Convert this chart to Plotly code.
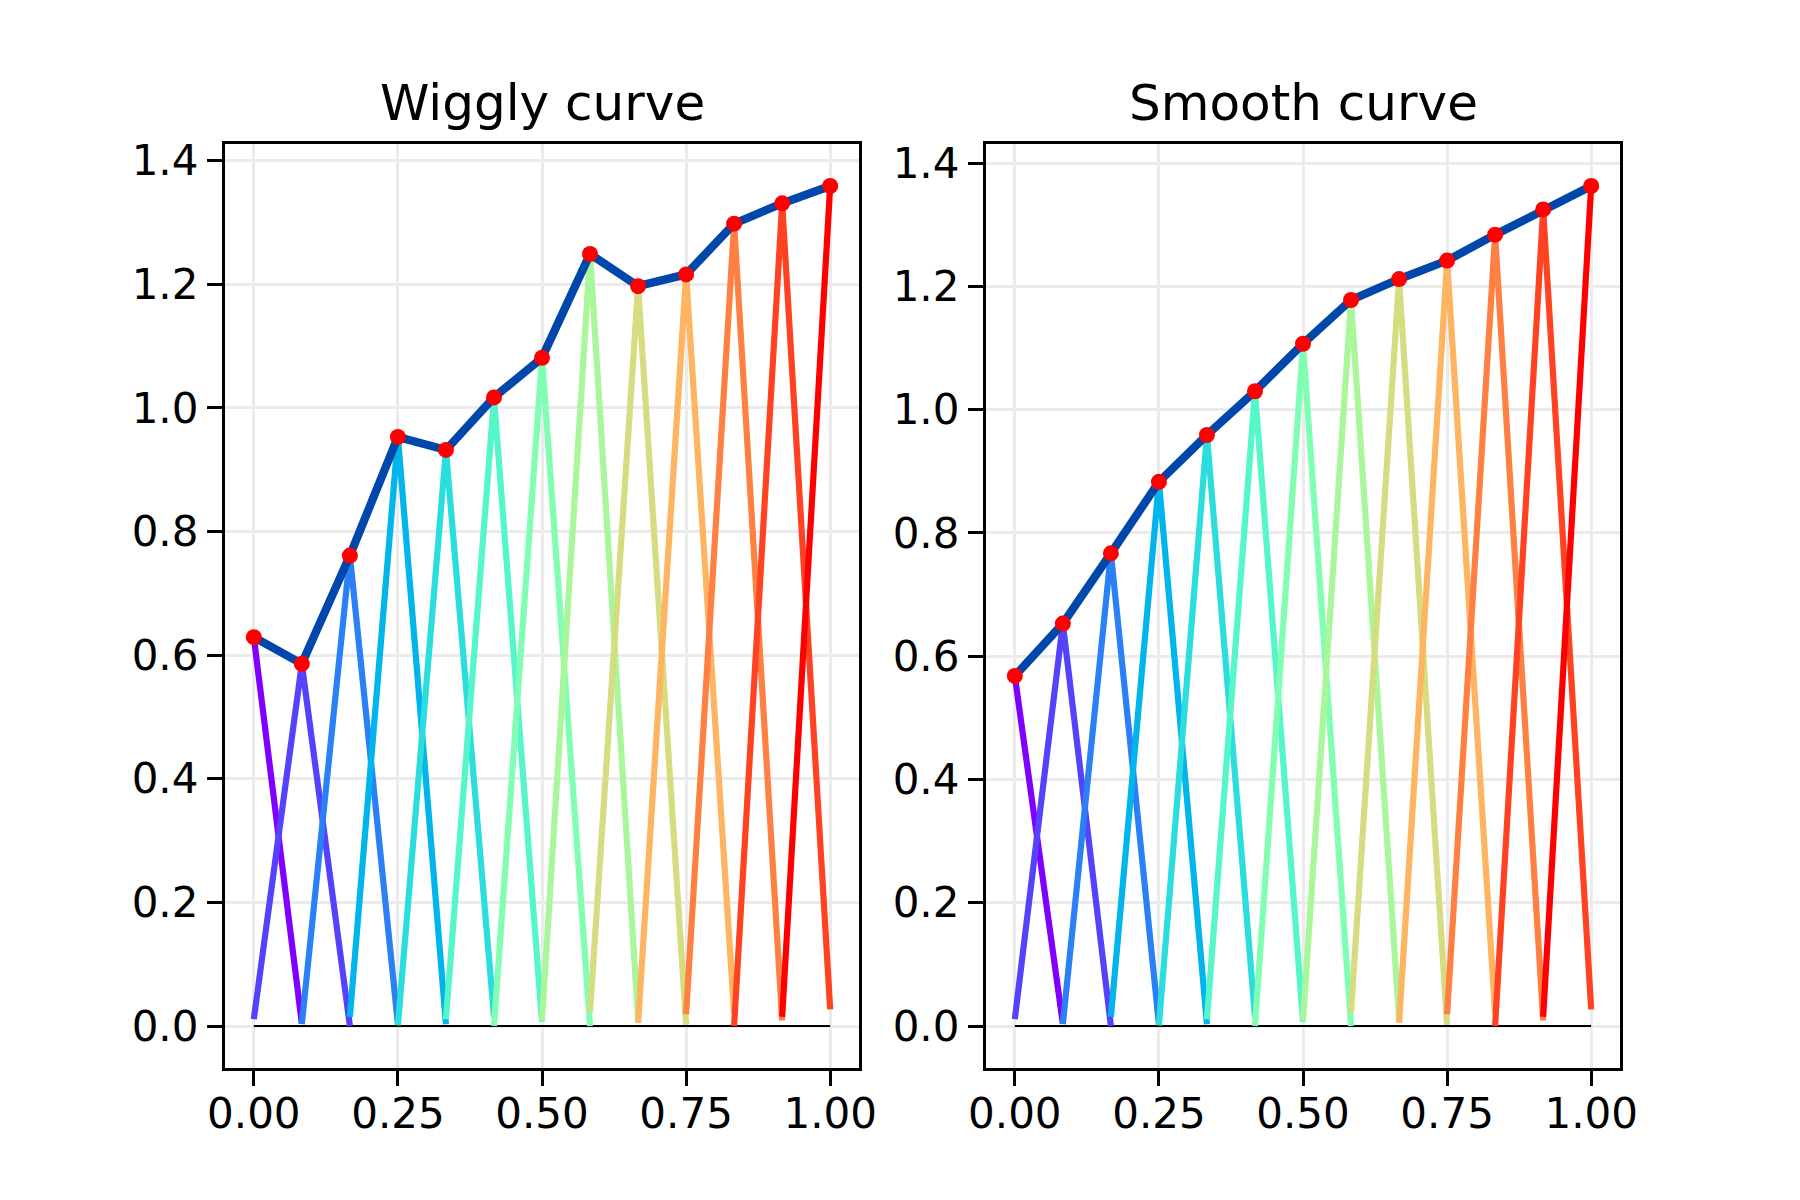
import plotly.graph_objects as go

# ---- data ----
x_vals = [0.0, 0.0833, 0.1667, 0.25, 0.3333, 0.4167, 0.5, 0.5833, 0.6667, 0.75, 0.8333, 0.9167, 1.0]
wiggly_y = [0.629, 0.586, 0.761, 0.953, 0.932, 1.017, 1.081, 1.249, 1.197, 1.216, 1.298, 1.331, 1.359]
smooth_y = [0.568, 0.653, 0.767, 0.883, 0.959, 1.030, 1.107, 1.178, 1.212, 1.242, 1.284, 1.325, 1.363]
# low ends of the coloured zig-zag segments (start at previous x, end at next x)
start_low = [None, 0.011, 0.003, 0.015, 0.001, 0.011, 0.0, 0.009, 0.022, 0.005, 0.019, 0.0, 0.015]
end_low = [0.004, 0.0, 0.003, 0.003, 0.015, 0.007, 0.0, 0.011, 0.002, 0.020, 0.009, 0.027, None]
titles = ["Wiggly curve", "Smooth curve"]
x_ticks = [0.0, 0.25, 0.5, 0.75, 1.0]
y_ticks = [0.0, 0.2, 0.4, 0.6, 0.8, 1.0, 1.2, 1.4]

# ---- styles ----
seg_colors = ["#8000ff", "#5542fd", "#2b80f6", "#00b4ec", "#2bdddd", "#55f6ca", "#80ffb4",
              "#aaf69b", "#d5dd80", "#ffb462", "#ff8042", "#ff4221", "#ff0000"]
curve_color = "#0047ab"
FONT = "DejaVu Sans"

fig = go.Figure()

panels = [(wiggly_y, "x", "y"), (smooth_y, "x2", "y2")]
for ys, xa, ya in panels:
    # baseline
    fig.add_trace(go.Scatter(x=[x_vals[0], x_vals[-1]], y=[0, 0], mode="lines",
                             line=dict(color="black", width=2), xaxis=xa, yaxis=ya,
                             showlegend=False, hoverinfo="skip"))
    n = len(x_vals)
    for i in range(n):
        sx, sy = [], []
        if i > 0:
            sx.append(x_vals[i - 1]); sy.append(start_low[i])
        sx.append(x_vals[i]); sy.append(ys[i])
        if i < n - 1:
            sx.append(x_vals[i + 1]); sy.append(end_low[i])
        fig.add_trace(go.Scatter(x=sx, y=sy, mode="lines",
                                 line=dict(color=seg_colors[i], width=6.2),
                                 xaxis=xa, yaxis=ya, showlegend=False))
    fig.add_trace(go.Scatter(x=x_vals, y=ys, mode="lines",
                             line=dict(color=curve_color, width=8.3),
                             xaxis=xa, yaxis=ya, showlegend=False))
    fig.add_trace(go.Scatter(x=x_vals, y=ys, mode="markers",
                             marker=dict(color="red", size=16, line=dict(width=0)),
                             xaxis=xa, yaxis=ya, showlegend=False))

def yrange(ys):
    lo = min(0.0, min(ys))
    hi = max(ys)
    pad = 0.05 * (hi - lo)
    return [lo - pad, hi + pad]

axis_common = dict(showline=True, mirror=True, linecolor="black", linewidth=3.3,
                   ticks="outside", ticklen=15, tickwidth=3.3, tickcolor="black",
                   showgrid=True, gridcolor="#ebebeb", gridwidth=2.5, zeroline=False,
                   tickfont=dict(family=FONT, size=42, color="black"))

w = 634 / 1395
d1 = [0, w]
d2 = [1 - w, 1]
xt = dict(tickvals=x_ticks, ticktext=[f"{v:.2f}" for v in x_ticks], range=[-0.05, 1.05],
          ticklabelstandoff=-9)
yt = dict(tickvals=y_ticks, ticktext=[f"{v:.1f}" for v in y_ticks])

fig.update_layout(
    width=1800, height=1200,
    margin=dict(l=225, r=180, t=144, b=132),
    paper_bgcolor="white", plot_bgcolor="white",
    showlegend=False,
    xaxis=dict(domain=d1, anchor="y", **xt, **axis_common),
    yaxis=dict(domain=[0, 1], anchor="x", range=yrange(wiggly_y), **yt, **axis_common),
    xaxis2=dict(domain=d2, anchor="y2", **xt, **axis_common),
    yaxis2=dict(domain=[0, 1], anchor="x2", range=yrange(smooth_y), **yt, **axis_common),
    annotations=[
        dict(text=titles[0], x=(d1[0] + d1[1]) / 2, y=1, xref="paper", yref="paper",
             xanchor="center", yanchor="bottom", yshift=10, showarrow=False,
             font=dict(family=FONT, size=50, color="black")),
        dict(text=titles[1], x=(d2[0] + d2[1]) / 2, y=1, xref="paper", yref="paper",
             xanchor="center", yanchor="bottom", yshift=10, showarrow=False,
             font=dict(family=FONT, size=50, color="black")),
    ],
)

fig.write_html("out.html")
